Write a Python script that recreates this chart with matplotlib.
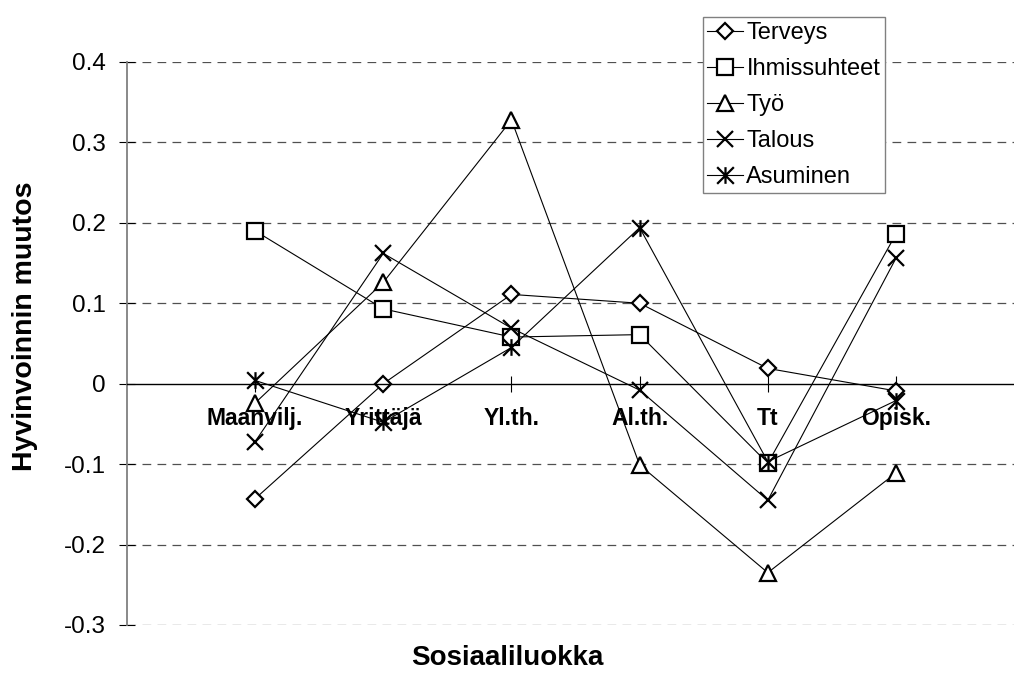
import numpy as np
import matplotlib
matplotlib.use('Agg')
import matplotlib.pyplot as plt
from matplotlib.path import Path

# Sosiaaliluokat ja hyvinvoinnin muutos
categories = ['Maanvilj.', 'Yrittäjä', 'Yl.th.', 'Al.th.', 'Tt', 'Opisk.']
terveys = [-0.143, 0.000, 0.111, 0.100, 0.019, -0.009]
ihmissuhteet = [0.190, 0.093, 0.058, 0.061, -0.099, 0.186]
tyo = [-0.024, 0.126, 0.328, -0.101, -0.235, -0.111]
talous = [-0.072, 0.162, 0.069, -0.008, -0.145, 0.156]
asuminen = [0.004, -0.048, 0.045, 0.194, -0.097, -0.021]

series_names = ['Terveys', 'Ihmissuhteet', 'Työ', 'Talous', 'Asuminen']
y_ticks = [-0.3, -0.2, -0.1, 0, 0.1, 0.2, 0.3, 0.4]
y_labels = ['-0.3', '-0.2', '-0.1', '0', '0.1', '0.2', '0.3', '0.4']

plt.rcParams['font.family'] = ['Liberation Sans', 'DejaVu Sans']

# Excel-tyylinen tähti: X + pystyviiva
asterisk = Path([(0, -1), (0, 1), (-1, -1), (1, 1), (-1, 1), (1, -1)],
                [Path.MOVETO, Path.LINETO, Path.MOVETO, Path.LINETO, Path.MOVETO, Path.LINETO])

markers = [('D', 8), ('s', 11), ('^', 11), ('x', 11), (asterisk, 12)]
data = [terveys, ihmissuhteet, tyo, talous, asuminen]

fig = plt.figure(figsize=(10.14, 6.84), dpi=100)
ax = fig.add_axes([0.1252, 0.0863, 0.8848, 0.8231])

x = np.arange(len(categories))
for name, values, (m, ms) in zip(series_names, data, markers):
    ax.plot(x, values, color='black', lw=0.8, marker=m, ms=ms,
            mfc='white', mec='black', mew=1.6, label=name)

ax.set_xlim(-1, 6)
ax.set_ylim(-0.3, 0.4)

# katkoviivaruudukko
for yv in y_ticks:
    if yv != 0:
        ax.axhline(yv, color='#505050', lw=0.9, ls=(0, (7, 5)), zorder=0)

ax.spines['top'].set_visible(False)
ax.spines['right'].set_visible(False)
ax.spines['left'].set_color('#808080')
ax.spines['left'].set_linewidth(1.3)
ax.spines['bottom'].set_position(('data', 0))
ax.spines['bottom'].set_linewidth(1.0)

ax.set_yticks(y_ticks)
ax.set_yticklabels(y_labels, fontsize=17.5)
ax.tick_params(axis='y', direction='inout', length=12, width=0.8, pad=9, colors='black')

ax.set_xticks(x)
ax.set_xticklabels(categories, fontsize=16.5, fontweight='bold')
ax.tick_params(axis='x', direction='inout', length=12, width=0.8, pad=11)

ax.set_ylabel('Hyvinvoinnin muutos', fontsize=20.5, fontweight='bold')
ax.yaxis.set_label_coords(-0.099, 0.531)
fig.text(0.5, 0.038, 'Sosiaaliluokka', fontsize=20, fontweight='bold', ha='center', va='center')

leg = ax.legend(loc='upper left', bbox_to_anchor=(0.693, 0.975), bbox_transform=fig.transFigure,
                fontsize=17, fancybox=False, framealpha=1, edgecolor='#808080',
                handlelength=1.5, handletextpad=0.15, labelspacing=0.6, borderpad=0.2,
                borderaxespad=0)
leg.get_frame().set_linewidth(1.0)

fig.savefig('out.png', dpi=100)
